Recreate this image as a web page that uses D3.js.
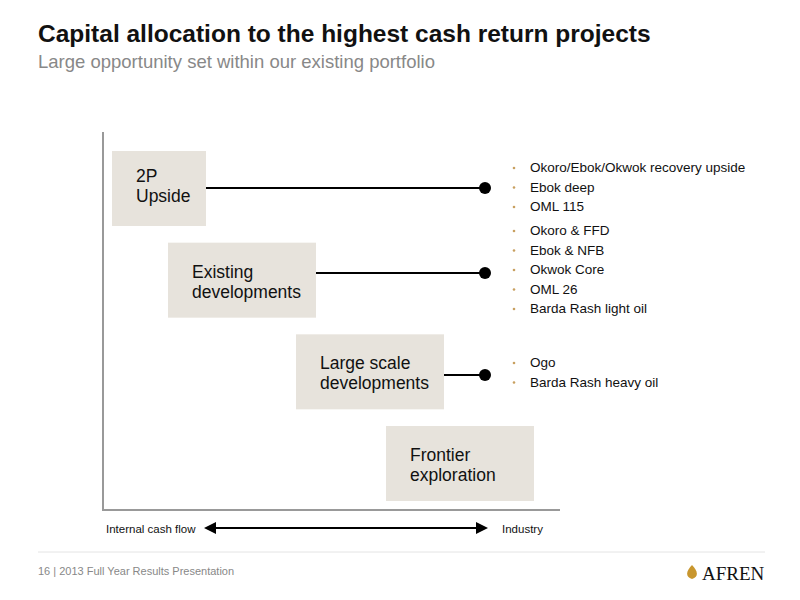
<!DOCTYPE html>
<html><head><meta charset="utf-8">
<script src="https://cdn.jsdelivr.net/npm/d3@7"></script>
<style>body{margin:0;background:#fff}</style></head>
<body><svg id="c" width="800" height="600"></svg>
<script>
const categories = [["2P","Upside"],["Existing","developments"],["Large scale","developments"],["Frontier","exploration"]];
const projects = [
  ["Okoro/Ebok/Okwok recovery upside","Ebok deep","OML 115"],
  ["Okoro & FFD","Ebok & NFB","Okwok Core","OML 26","Barda Rash light oil"],
  ["Ogo","Barda Rash heavy oil"],
  []
];
const axisLabels = ["Internal cash flow","Industry"];
const title = "Capital allocation to the highest cash return projects";
const subtitle = "Large opportunity set within our existing portfolio";
const footer = "16  |  2013 Full Year Results Presentation";

const svg = d3.select("#c");
const F = "Liberation Sans, Arial, sans-serif";
svg.append("text").attr("x",38).attr("y",42).attr("font-family",F).attr("font-weight","bold").attr("font-size",24.5).attr("fill","#111").text(title);
svg.append("text").attr("x",38).attr("y",68).attr("font-family",F).attr("font-size",18.5).attr("fill","#888").text(subtitle);

const idx = d3.range(categories.length);
const xs = d3.scaleOrdinal().domain(idx).range([112,168,296,386]);
const ys = d3.scaleLinear().domain([0,3]).range([151,426]);
const bw = 148, bh = 75;

svg.append("path").attr("d","M103,132V510H560").attr("fill","none").attr("stroke","#999").attr("stroke-width",2);

const lineY = [188,273,375];
idx.forEach(i=>{
  const w = i===0 ? 94 : bw;
  svg.append("rect").attr("x",xs(i)).attr("y",ys(i)).attr("width",w).attr("height",bh).attr("fill","#e7e3dc");
  categories[i].forEach((t,j)=>{
    svg.append("text").attr("x",xs(i)+24).attr("y",ys(i)+(i===0?31:35)+j*20).attr("font-family",F).attr("font-size",17.5).attr("fill","#111").text(t);
  });
  if(projects[i].length){
    const ly = lineY[i];
    svg.append("line").attr("x1",xs(i)+w).attr("x2",485).attr("y1",ly).attr("y2",ly).attr("stroke","#000").attr("stroke-width",2);
    svg.append("circle").attr("cx",485).attr("cy",ly).attr("r",6).attr("fill","#000");
  }
});
const listStart = [172,235,367];
[0,1,2].forEach(i=>{
  projects[i].forEach((t,j)=>{
    const y = listStart[i]+j*19.5;
    svg.append("circle").attr("cx",514).attr("cy",y-4).attr("r",1.3).attr("fill","#c8a060");
    svg.append("text").attr("x",530).attr("y",y).attr("font-family",F).attr("font-size",13.5).attr("fill","#111").text(t);
  });
});

svg.append("text").attr("x",106).attr("y",533).attr("font-family",F).attr("font-size",11.5).attr("fill","#111").text(axisLabels[0]);
svg.append("text").attr("x",502).attr("y",533).attr("font-family",F).attr("font-size",11.5).attr("fill","#111").text(axisLabels[1]);
svg.append("line").attr("x1",212).attr("x2",480).attr("y1",528).attr("y2",528).attr("stroke","#000").attr("stroke-width",2);
svg.append("path").attr("d","M204,528l12,-6v12z").attr("fill","#000");
svg.append("path").attr("d","M488,528l-12,-6v12z").attr("fill","#000");

svg.append("line").attr("x1",38).attr("x2",765).attr("y1",552).attr("y2",552).attr("stroke","#e4e4e4");
svg.append("text").attr("x",38).attr("y",575).attr("font-family",F).attr("font-size",11).attr("fill","#888").text(footer);
svg.append("path").attr("d","M692,565c-6,6,-7,12,0,14c7,-2,6,-8,0,-14z").attr("fill","#c8962e");
svg.append("text").attr("x",702).attr("y",580).attr("font-family","Liberation Serif, serif").attr("font-size",19).attr("fill","#111").text("AFREN");
</script></body></html>
